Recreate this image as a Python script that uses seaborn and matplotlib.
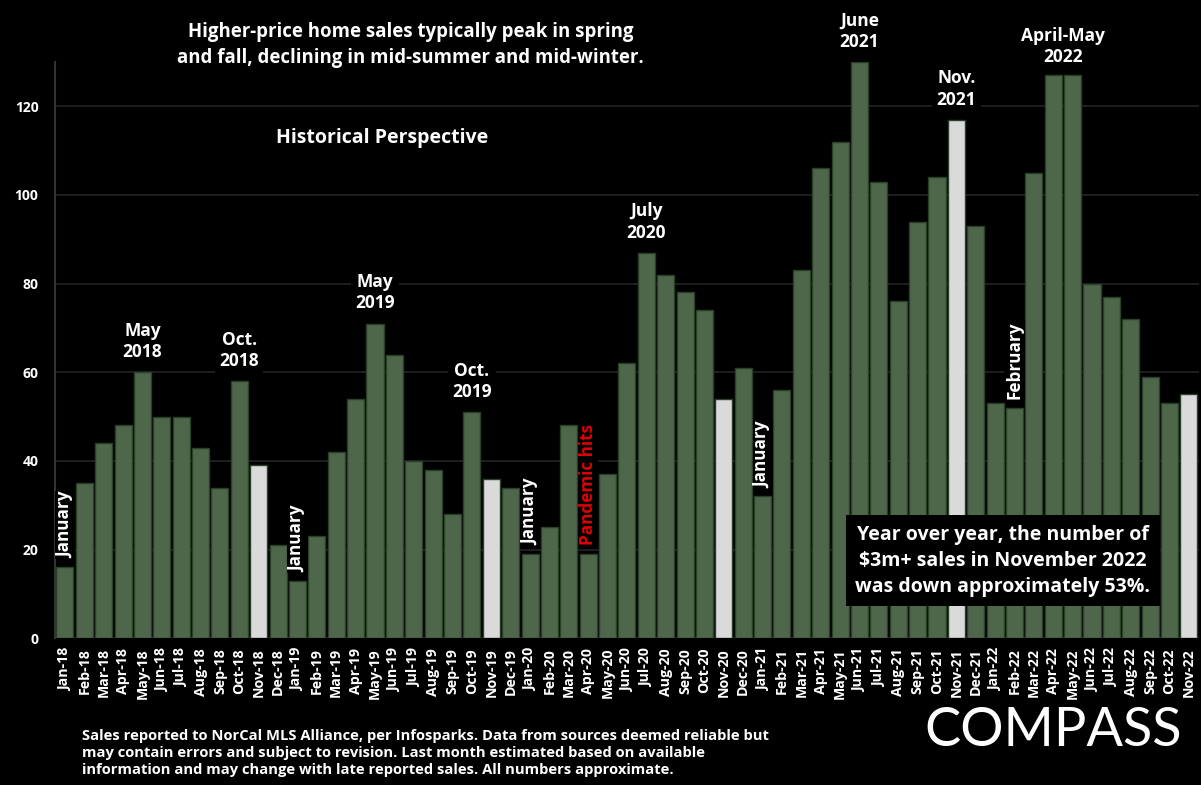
import matplotlib
matplotlib.use("Agg")
import matplotlib.pyplot as plt
import seaborn as sns
import pandas as pd

months = ["Jan-18", "Feb-18", "Mar-18", "Apr-18", "May-18", "Jun-18", "Jul-18", "Aug-18", "Sep-18", "Oct-18", "Nov-18", "Dec-18",
          "Jan-19", "Feb-19", "Mar-19", "Apr-19", "May-19", "Jun-19", "Jul-19", "Aug-19", "Sep-19", "Oct-19", "Nov-19", "Dec-19",
          "Jan-20", "Feb-20", "Mar-20", "Apr-20", "May-20", "Jun-20", "Jul-20", "Aug-20", "Sep-20", "Oct-20", "Nov-20", "Dec-20",
          "Jan-21", "Feb-21", "Mar-21", "Apr-21", "May-21", "Jun-21", "Jul-21", "Aug-21", "Sep-21", "Oct-21", "Nov-21", "Dec-21",
          "Jan-22", "Feb-22", "Mar-22", "Apr-22", "May-22", "Jun-22", "Jul-22", "Aug-22", "Sep-22", "Oct-22", "Nov-22"]

sales = [16, 35, 44, 48, 60, 50, 50, 43, 34, 58, 39, 21,
         13, 23, 42, 54, 71, 64, 40, 38, 28, 51, 36, 34,
         19, 25, 48, 19, 37, 62, 87, 82, 78, 74, 54, 61,
         32, 56, 83, 106, 112, 130, 103, 76, 94, 104, 117, 93,
         53, 52, 105, 127, 127, 80, 77, 72, 59, 53, 55]

# bar groups: November bars highlighted in light gray
kind = ["November" if m.startswith("Nov") else "Other" for m in months]

# peak annotations: (month label, text)
peak_notes = [("May-18", "May\n2018"), ("Oct-18", "Oct.\n2018"), ("May-19", "May\n2019"),
              ("Oct-19", "Oct.\n2019"), ("Jul-20", "July\n2020"), ("Jun-21", "June\n2021"),
              ("Nov-21", "Nov.\n2021")]
double_note = (("Apr-22", "May-22"), "April-May\n2022")

# vertical notes: (month label, text, colour)
vertical_notes = [("Jan-18", "January", "white"), ("Jan-19", "January", "white"),
                  ("Jan-20", "January", "white"), ("Apr-20", "Pandemic hits", "#e00000"),
                  ("Jan-21", "January", "white"), ("Feb-22", "February", "white")]

title_text = "Higher-price home sales typically peak in spring\nand fall, declining in mid-summer and mid-winter."
subtitle_text = "Historical Perspective"
box_text = "Year over year, the number of\n$3m+ sales in November 2022\nwas down approximately 53%."
footer_text = ("Sales reported to NorCal MLS Alliance, per Infosparks. Data from sources deemed reliable but\n"
               "may contain errors and subject to revision. Last month estimated based on available\n"
               "information and may change with late reported sales. All numbers approximate.")
yticks = [0, 20, 40, 60, 80, 100, 120]

df = pd.DataFrame({"month": months, "sales": sales, "kind": kind})

sns.set_theme(style="dark")
FONT = ["Open Sans", "DejaVu Sans"]
plt.rcParams["font.family"] = FONT

GREEN = "#4a6b47"
GRAY = "#dadada"

fig = plt.figure(figsize=(12.01, 7.85), dpi=100, facecolor="black")
ax = fig.add_axes([0.046, 0.187, 0.952, 0.734])
ax.set_facecolor("black")

sns.barplot(data=df, x="month", y="sales", hue="kind", order=months,
            palette={"Other": GREEN, "November": GRAY}, dodge=False,
            width=0.88, edgecolor="#2a4029", linewidth=1.0, legend=False,
            ax=ax, zorder=2)

ax.set_ylim(0, 130)
ax.set_xlim(-0.5, len(months) - 0.5)
ax.set_yticks(yticks)
ax.yaxis.grid(True, color="#242424", linewidth=1.2, zorder=0)
ax.xaxis.grid(False)
ax.set_axisbelow(True)
ax.set_xlabel("")
ax.set_ylabel("")
for s in ["top", "right", "bottom"]:
    ax.spines[s].set_visible(False)
ax.spines["left"].set_color("#333333")
ax.spines["left"].set_linewidth(1.5)

ax.tick_params(axis="y", length=0, pad=12, labelcolor="white", labelsize=10)
ax.tick_params(axis="x", length=0, pad=7, labelcolor="white", labelsize=10.2, rotation=90)
for lab in ax.get_xticklabels() + ax.get_yticklabels():
    lab.set_fontweight("bold")

idx = {m: i for i, m in enumerate(months)}
box = dict(facecolor="black", edgecolor="none", boxstyle="square,pad=0.25")

for m, txt in peak_notes:
    i = idx[m]
    ax.text(i, sales[i] + 2.5, txt, ha="center", va="bottom", color="white",
            fontsize=12.5, fontweight="bold", linespacing=1.25, bbox=box,
            zorder=4, clip_on=False)

(m1, m2), txt = double_note
i1, i2 = idx[m1], idx[m2]
ax.text((i1 + i2) / 2, max(sales[i1], sales[i2]) + 2.0, txt, ha="center", va="bottom",
        color="white", fontsize=12.5, fontweight="bold", linespacing=1.25,
        bbox=box, zorder=4, clip_on=False)

for m, txt, col in vertical_notes:
    i = idx[m]
    ax.text(i, sales[i] + 2.0, txt, ha="center", va="bottom", rotation=90,
            color=col, fontsize=12.3, fontweight="bold",
            bbox=dict(facecolor="black", edgecolor="none", boxstyle="square,pad=0.06"),
            zorder=4)

ax.text(48.4, 17.5, box_text, ha="center", va="center", color="white",
        fontsize=14, fontweight="bold", linespacing=1.4,
        bbox=dict(facecolor="black", edgecolor="none", boxstyle="square,pad=0.5"),
        zorder=5)

fig.text(0.342, 0.943, title_text, ha="center", va="center", color="white",
         fontsize=13.4, fontweight="bold", linespacing=1.4)
fig.text(0.318, 0.824, subtitle_text, ha="center", va="center", color="white",
         fontsize=14, fontweight="bold")
fig.text(0.068, 0.041, footer_text, ha="left", va="center", color="white",
         fontsize=10.6, fontweight="bold", linespacing=1.28)
fig.text(0.877, 0.069, "COMPASS", ha="center", va="center", color="white",
         fontsize=39, fontweight="normal", family=["Lato", "DejaVu Sans"])

fig.savefig("out.png", dpi=100, facecolor="black")
